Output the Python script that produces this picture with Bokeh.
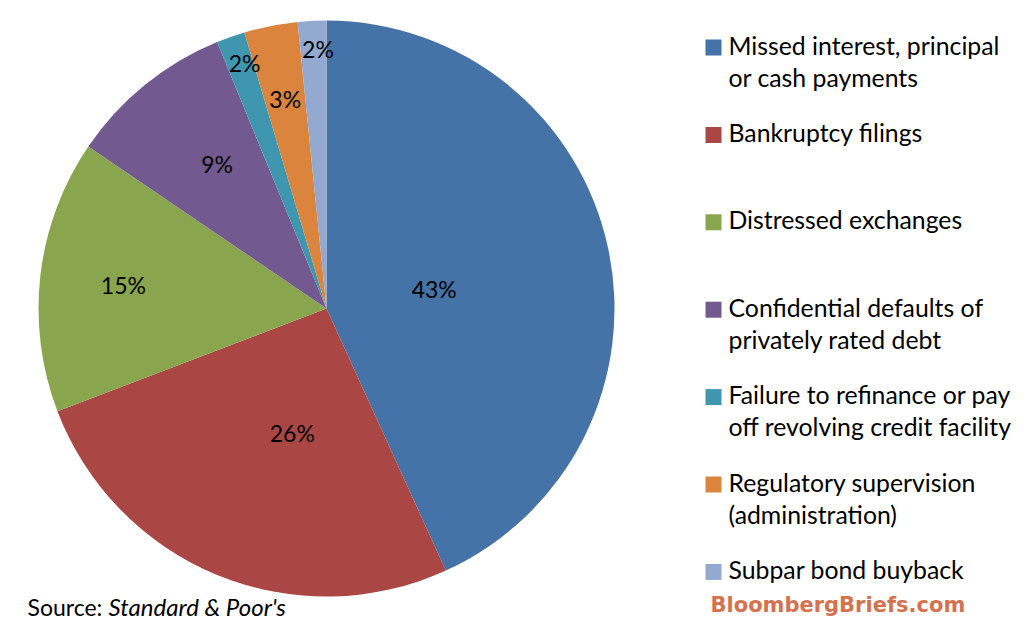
import math
from bokeh.plotting import figure
from bokeh.models import Range1d, ColumnDataSource
from bokeh.core.properties import value
from bokeh.embed import file_html
from bokeh.resources import INLINE

# ---- data ----
categories = [
    ["Missed interest, principal", "or cash payments"],
    ["Bankruptcy filings"],
    ["Distressed exchanges"],
    ["Confidential defaults of", "privately rated debt"],
    ["Failure to refinance or pay", "off revolving credit facility"],
    ["Regulatory supervision", "(administration)"],
    ["Subpar bond buyback"],
]
shares = [43.2, 26.0, 15.3, 9.3, 1.6, 3.0, 1.6]
share_labels = ["43%", "26%", "15%", "9%", "2%", "3%", "2%"]
colors = ["#4572A7", "#AA4643", "#89A54E", "#72598F", "#3F97AF", "#DB843D", "#93A9CF"]
label_radius = [0.38, 0.45, 0.71, 0.63, 0.90, 0.74, 0.90]
label_shift_deg = [2, -7, 0, 2, 1, 0, 1]

W, H = 1035, 626
FONT = "Lato"

p = figure(width=W, height=H, x_range=Range1d(0, W), y_range=Range1d(0, H),
           output_backend="svg", toolbar_location=None, min_border=0)
p.axis.visible = False
p.grid.visible = False
p.outline_line_color = None
p.background_fill_color = "white"

cx, cy, R = 326, H - 308, 288
total = sum(shares)
starts, ends, mids = [], [], []
cum = 0.0
for s in shares:
    a0 = math.pi / 2 - 2 * math.pi * cum / total
    cum += s
    a1 = math.pi / 2 - 2 * math.pi * cum / total
    starts.append(a0); ends.append(a1); mids.append((a0 + a1) / 2)

src = ColumnDataSource(dict(start=starts, end=ends, color=colors))
p.wedge(x=cx, y=cy, radius=R, start_angle="start", end_angle="end",
        direction="clock", fill_color="color", line_color=None, source=src)

la = [m - math.radians(d) for m, d in zip(mids, label_shift_deg)]
lx = [cx + R * f * math.cos(a) for f, a in zip(label_radius, la)]
ly = [cy + R * f * math.sin(a) for f, a in zip(label_radius, la)]
p.text(x=lx, y=ly, text=share_labels, text_font=value(FONT), text_font_size="23px",
       text_align="center", text_baseline="middle", text_color="black")

# legend
leg_x = 705
top = H - 47
step = 87.4
line_h = 32
for i, (lines, c) in enumerate(zip(categories, colors)):
    yy = top - i * step
    p.rect(x=leg_x + 8, y=yy, width=16, height=16, fill_color=c, line_color=None)
    for j, t in enumerate(lines):
        p.text(x=[leg_x + 23], y=[yy - j * line_h + 2.5], text=[t], text_font=value(FONT),
               text_font_size="24.8px", text_align="left", text_baseline="middle",
               text_color="black")

# source
p.text(x=[27], y=[H - 606], text=["Source:"], text_font=value(FONT),
       text_font_size="23px", text_baseline="middle", text_color="black")
p.text(x=[108], y=[H - 606], text=["Standard & Poor's"], text_font=value(FONT),
       text_font_size="24px", text_font_style="italic", text_baseline="middle", text_color="black")

# brand
p.text(x=[710], y=[H - 604], text=["BloombergBriefs.com"],
       text_font=value("DejaVu Sans"), text_font_size="21px", text_font_style="bold",
       text_baseline="middle", text_color="#D6714D")

open("out.html", "w").write(file_html(p, INLINE))
